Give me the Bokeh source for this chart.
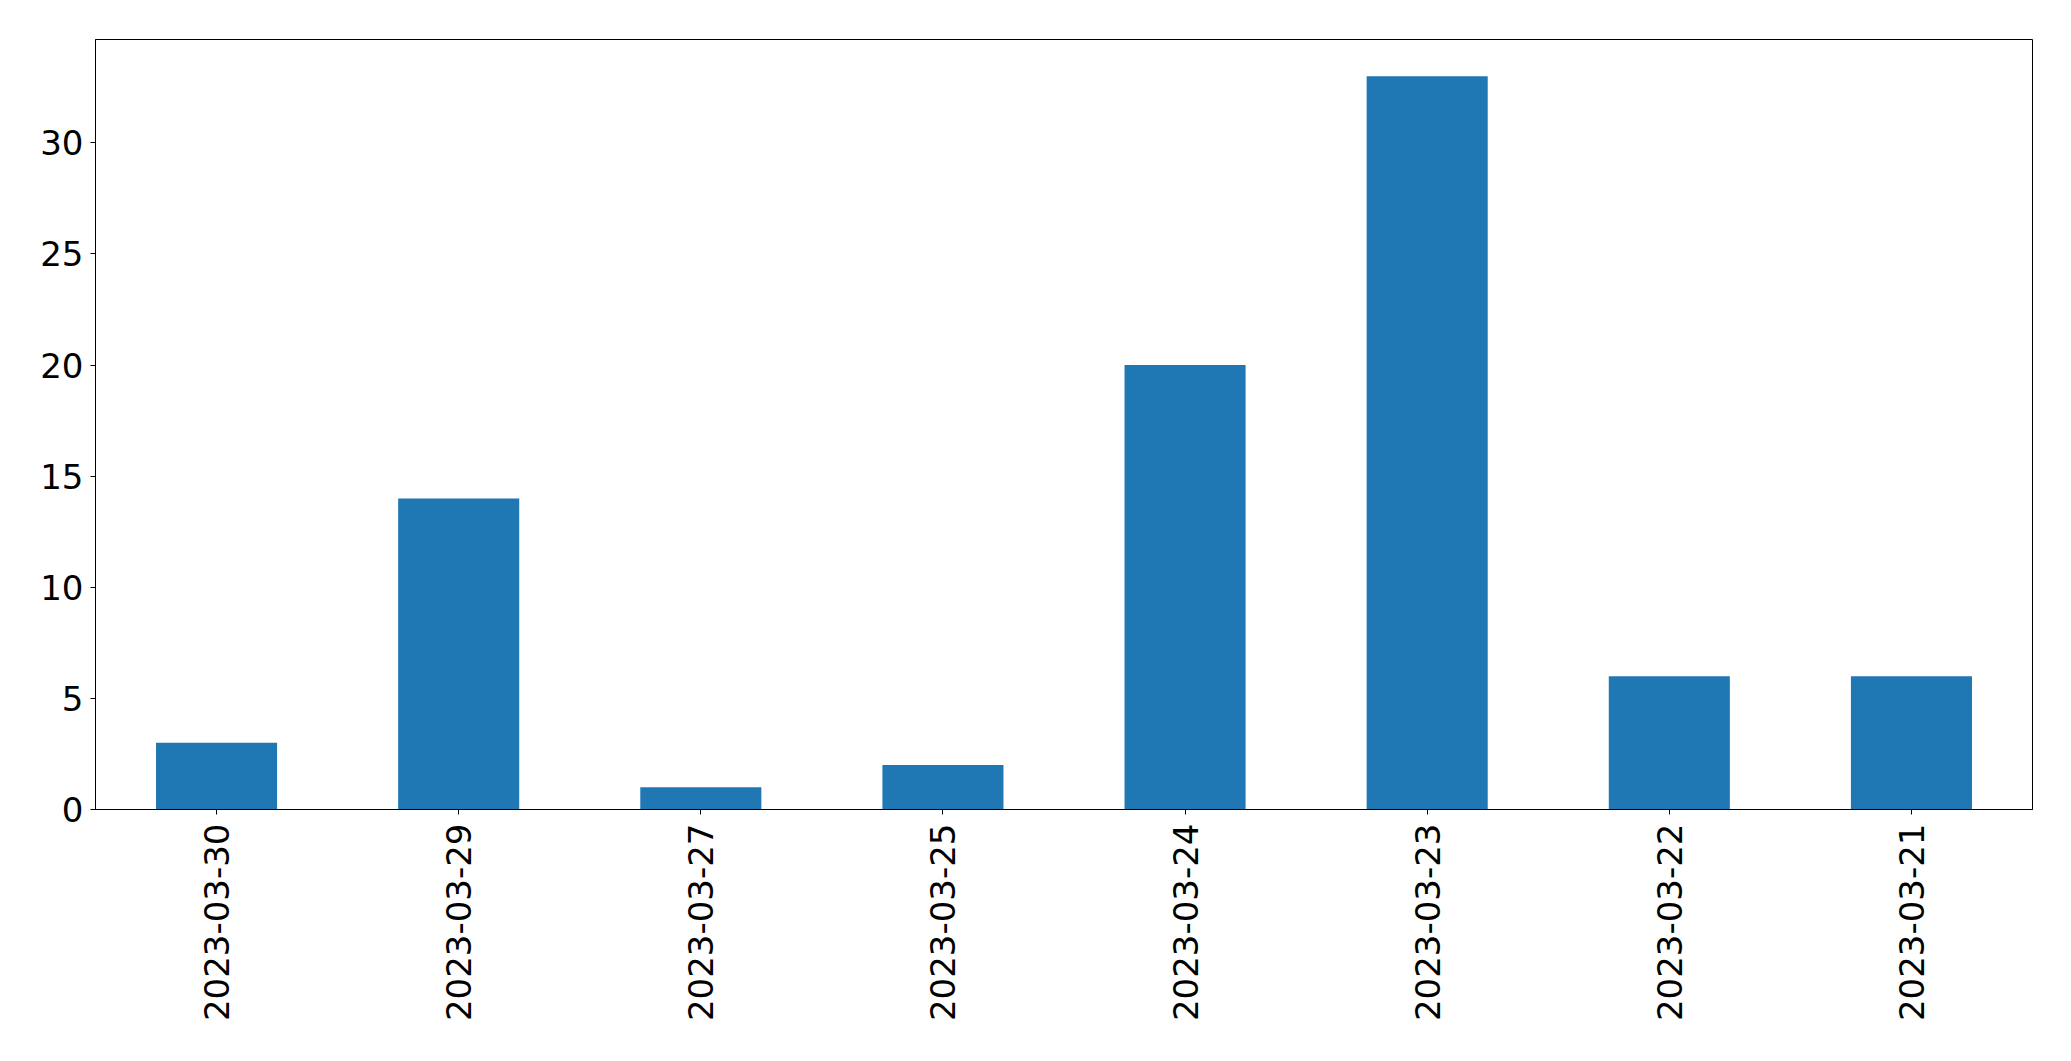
from math import pi
from bokeh.plotting import figure
from bokeh.models import FixedTicker, Range1d
from bokeh.embed import file_html
from bokeh.resources import INLINE

dates = ["2023-03-30", "2023-03-29", "2023-03-27", "2023-03-25",
         "2023-03-24", "2023-03-23", "2023-03-22", "2023-03-21"]
counts = [3, 14, 1, 2, 20, 33, 6, 6]
y_ticks = [0, 5, 10, 15, 20, 25, 30]

p = figure(x_range=dates, y_range=Range1d(0, max(counts) * 1.05),
           width=2055, height=1045, output_backend="svg", toolbar_location=None,
           min_border_left=95, min_border_right=23, min_border_top=39, min_border_bottom=236)
p.x_range.range_padding = 0

p.vbar(x=dates, top=counts, width=0.5, color="#1f77b4", line_color=None)

p.xgrid.grid_line_color = None
p.ygrid.grid_line_color = None
p.outline_line_color = "black"
p.outline_line_width = 1
p.outline_line_alpha = 1

p.yaxis.ticker = FixedTicker(ticks=y_ticks)
p.yaxis.minor_tick_line_color = None
p.xaxis.major_label_orientation = pi / 2

for ax in (p.xaxis[0], p.yaxis[0]):
    ax.major_label_text_font = "DejaVu Sans"
    ax.major_label_text_font_size = "34px"
    ax.major_label_text_color = "black"
    ax.axis_line_color = "black"
    ax.major_tick_line_color = "black"
    ax.major_tick_out = 5
    ax.major_tick_in = 0

p.yaxis.major_label_standoff = 7
p.xaxis.major_label_standoff = 9

open("out.html", "w").write(file_html(p, INLINE))
